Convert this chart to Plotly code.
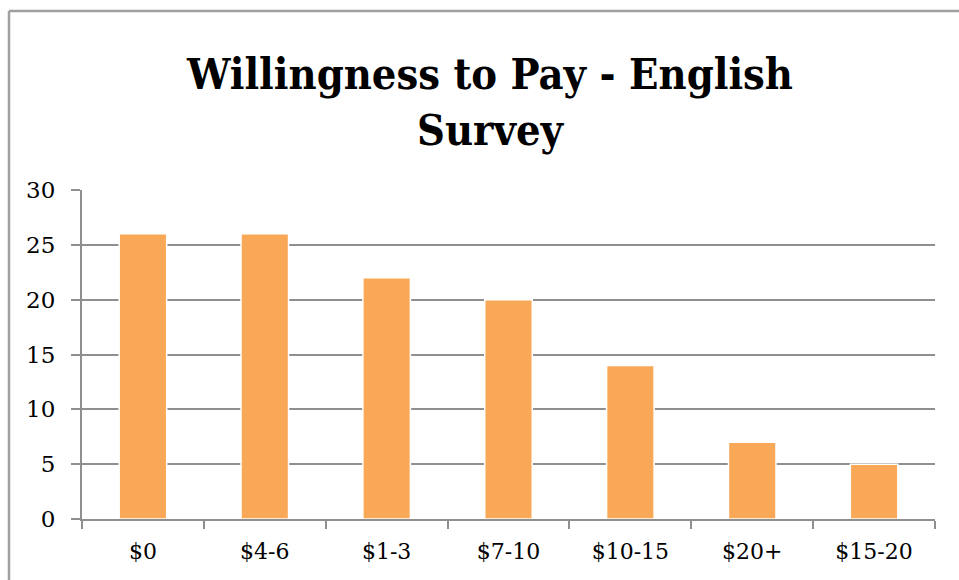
import plotly.graph_objects as go

categories = ["$0", "$4-6", "$1-3", "$7-10", "$10-15", "$20+", "$15-20"]
values = [26, 26, 22, 20, 14, 7, 5]
y_ticks = [0, 5, 10, 15, 20, 25, 30]

W, H = 959, 580
L, R, T, B = 82, 24, 190, 61
pw, ph = W - L - R, H - T - B

fig = go.Figure(go.Bar(
    x=categories, y=values,
    marker=dict(color="#F9A857", line=dict(color="white", width=1.5)),
    width=0.39,
))

grid = "#8f8f8f"
font_serif = "DejaVu Serif, Liberation Serif, serif"

fig.update_layout(
    width=W, height=H,
    margin=dict(l=L, r=R, t=T, b=B),
    paper_bgcolor="white", plot_bgcolor="white",
    showlegend=False,
    title=dict(
        text="<b>Willingness to Pay - English<br>Survey</b>",
        x=(490 - L) / pw, xanchor="center", xref="paper",
        y=1 - 89 / H, yanchor="middle", yref="container",
        font=dict(family="DejaVu Serif Condensed, Liberation Serif, serif", size=43, color="black"),
    ),
    font=dict(family=font_serif, size=22, color="black"),
)

fig.update_xaxes(
    type="category",
    showline=True, linecolor=grid, linewidth=2,
    ticks="outside", ticklen=8, tickcolor=grid, tickwidth=2,
    tickson="boundaries",
    showgrid=False,
    tickfont=dict(family=font_serif, size=22),
    ticklabelstandoff=12,
)
fig.update_yaxes(
    range=[0, 30], tickvals=y_ticks,
    showline=True, linecolor=grid, linewidth=2,
    ticks="outside", ticklen=9, tickcolor=grid, tickwidth=2,
    showgrid=True, gridcolor=grid, gridwidth=2,
    zeroline=False,
    tickfont=dict(family=font_serif, size=23),
    ticklabelstandoff=11,
)

# Outer chart frame (top-left border)
x_left = (9 - L) / pw
y_top = (H - B - 11) / ph
fig.add_shape(type="line", xref="paper", yref="paper",
              x0=x_left, x1=1.2, y0=y_top, y1=y_top,
              line=dict(color="#a0a0a0", width=2.5))
fig.add_shape(type="line", xref="paper", yref="paper",
              x0=x_left, x1=x_left, y0=y_top, y1=-0.5,
              line=dict(color="#a0a0a0", width=2.5))

fig.write_html("out.html", config={"displayModeBar": False},
               post_script="document.body.style.margin='0';document.body.style.overflow='hidden';")
